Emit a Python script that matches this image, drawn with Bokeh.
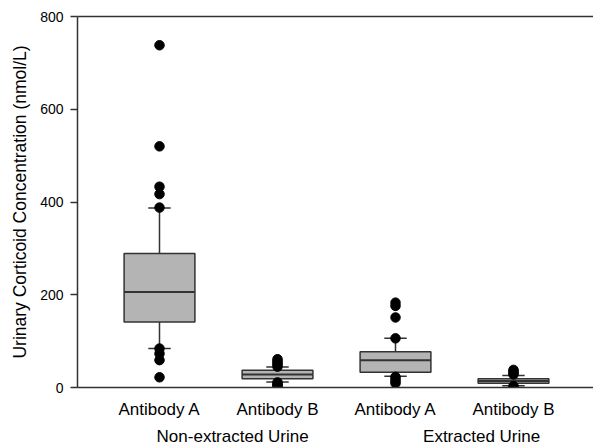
from bokeh.plotting import figure
from bokeh.models import LinearAxis, FixedTicker, Range1d
from bokeh.embed import file_html
from bokeh.resources import INLINE

# categories
positions = [1, 2, 3, 4]
tick_labels = ["Antibody A", "Antibody B", "Antibody A", "Antibody B"]
group_labels = ["Non-extracted Urine", "Extracted Urine"]
group_positions = [1.62, 3.73]

# box statistics (nmol/L)
q1 = [141, 19, 33, 9]
median = [206, 28, 59, 14]
q3 = [289, 37, 77, 19]
lower_whisker = [84, 12, 24, 4]
upper_whisker = [387, 44, 106, 26]

# outliers (nmol/L)
outliers_a_nonext = [738, 520, 433, 417, 388, 84, 73, 59, 22]
outliers_b_nonext = [61, 57, 53, 49, 45, 11, 8, 5, 3]
outliers_a_ext = [183, 176, 151, 106, 23, 18, 13, 9]
outliers_b_ext = [38, 35, 31, 28, 3, 1]

LINE = "#333333"
FILL = "#b4b4b4"
FONT = "Liberation Sans"

p = figure(width=593, height=448, output_backend="svg", toolbar_location=None,
           x_range=Range1d(0.305, 4.678), y_range=Range1d(0, 800),
           min_border_left=77, min_border_top=16, min_border_bottom=59,
           min_border_right=0)
p.outline_line_color = None
p.grid.visible = False
p.background_fill_color = "white"
p.border_fill_color = "white"

bw = 0.6
cw = 0.19
# whiskers
p.segment(x0=positions, y0=q3, x1=positions, y1=upper_whisker, line_color=LINE, line_width=1.5)
p.segment(x0=positions, y0=q1, x1=positions, y1=lower_whisker, line_color=LINE, line_width=1.5)
p.segment(x0=[x - cw / 2 for x in positions], y0=upper_whisker,
          x1=[x + cw / 2 for x in positions], y1=upper_whisker, line_color=LINE, line_width=1.5)
p.segment(x0=[x - cw / 2 for x in positions], y0=lower_whisker,
          x1=[x + cw / 2 for x in positions], y1=lower_whisker, line_color=LINE, line_width=1.5)
# boxes
p.vbar(x=positions, width=bw, bottom=q1, top=q3, fill_color=FILL,
       line_color=LINE, line_width=1.5)
p.segment(x0=[x - bw / 2 for x in positions], y0=median,
          x1=[x + bw / 2 for x in positions], y1=median, line_color=LINE, line_width=2)

# outliers
all_out = [outliers_a_nonext, outliers_b_nonext, outliers_a_ext, outliers_b_ext]
ox, oy = [], []
for pos, vals in zip(positions, all_out):
    ox += [pos] * len(vals)
    oy += vals
p.scatter(ox, oy, size=9.5, fill_color="black", line_color="black")

# x axis
xa = p.xaxis[0]
xa.ticker = FixedTicker(ticks=positions)
xa.major_label_overrides = {pos: lab for pos, lab in zip(positions, tick_labels)}
xa.major_tick_line_color = None
xa.minor_tick_line_color = None
xa.major_tick_out = 0
xa.major_label_standoff = 12
xa.major_label_text_font = FONT
xa.major_label_text_font_size = "17px"
xa.major_label_text_color = "black"
xa.axis_line_color = LINE
xa.axis_line_width = 1.5

ga = LinearAxis(ticker=FixedTicker(ticks=group_positions),
                major_label_overrides={pos: lab for pos, lab in zip(group_positions, group_labels)})
ga.axis_line_color = None
ga.major_tick_line_color = None
ga.minor_tick_line_color = None
ga.major_tick_out = 0
ga.major_label_standoff = 5
ga.major_label_text_font = FONT
ga.major_label_text_font_size = "17px"
ga.major_label_text_color = "black"
p.add_layout(ga, "below")

# top line
ta = LinearAxis(ticker=FixedTicker(ticks=[]))
ta.axis_line_color = LINE
ta.axis_line_width = 1.5
ta.major_tick_line_color = None
ta.minor_tick_line_color = None
ta.major_label_text_font_size = "0px"
ta.major_label_standoff = 0
ta.major_tick_out = 0
p.add_layout(ta, "above")

# y axis
ya = p.yaxis[0]
ya.ticker = FixedTicker(ticks=[0, 200, 400, 600, 800])
ya.minor_tick_line_color = None
ya.major_tick_in = 0
ya.major_tick_out = 7
ya.major_tick_line_color = LINE
ya.major_tick_line_width = 1.5
ya.axis_line_color = LINE
ya.axis_line_width = 1.5
ya.major_label_standoff = 7
ya.major_label_text_font = FONT
ya.major_label_text_font_size = "14px"
ya.major_label_text_color = "black"
ya.axis_label = "Urinary Corticoid Concentration (nmol/L)"
ya.axis_label_text_font = FONT
ya.axis_label_text_font_size = "17.5px"
ya.axis_label_text_font_style = "normal"
ya.axis_label_text_color = "black"
ya.axis_label_standoff = 7

open("out.html", "w").write(file_html(p, INLINE))
